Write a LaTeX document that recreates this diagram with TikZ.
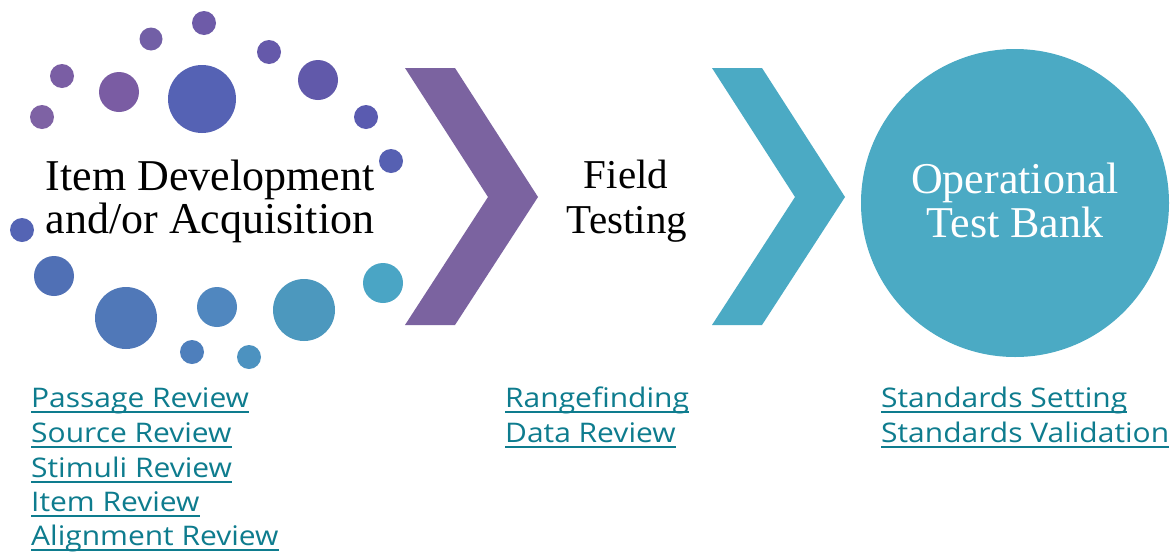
\documentclass[tikz,border=0pt]{standalone}
\usepackage{fontspec}
\setmainfont{Liberation Serif}
\newfontfamily\linkfont{Open Sans}[FakeStretch=1.11]
\definecolor{chevpurple}{HTML}{7B63A0}
\definecolor{chevteal}{HTML}{4BAAC4}
\definecolor{linkcol}{HTML}{0E7C8E}
\begin{document}
\begin{tikzpicture}[x=1pt,y=-1pt,
  dot/.style={circle,inner sep=0pt,minimum size=#1},
  bigtext/.style={font=\fontsize{44}{48}\selectfont,anchor=base,inner sep=0pt},
  midtext/.style={font=\fontsize{41}{44}\selectfont,anchor=base,inner sep=0pt},
  linktext/.style={font=\linkfont\fontsize{27}{30}\selectfont,text=linkcol,anchor=base west,inner sep=0pt},
  uline/.style={draw=linkcol,line width=2.4pt}]
\useasboundingbox[fill=white] (0,0) rectangle (1170,552);
% dots
\node[dot=24pt,fill={rgb,255:red,110;green,91;blue,168}] (d1) at (204,23) {};
\node[dot=23pt,fill={rgb,255:red,114;green,95;blue,166}] (d2) at (151,39) {};
\node[dot=24pt,fill={rgb,255:red,101;green,89;blue,170}] (d3) at (269,52) {};
\node[dot=24pt,fill={rgb,255:red,122;green,94;blue,164}] (d4) at (62,76) {};
\node[dot=40pt,fill={rgb,255:red,122;green,92;blue,163}] (d5) at (119,92) {};
\node[dot=68pt,fill={rgb,255:red,85;green,98;blue,180}] (d6) at (202,99) {};
\node[dot=40pt,fill={rgb,255:red,97;green,89;blue,170}] (d7) at (318,80) {};
\node[dot=24pt,fill={rgb,255:red,126;green,98;blue,164}] (d8) at (42,117) {};
\node[dot=24pt,fill={rgb,255:red,90;green,91;blue,176}] (d9) at (366,117) {};
\node[dot=24pt,fill={rgb,255:red,86;green,96;blue,178}] (d10) at (391,161) {};
\node[dot=24pt,fill={rgb,255:red,84;green,100;blue,180}] (d11) at (22,230) {};
\node[dot=40pt,fill={rgb,255:red,80;green,112;blue,181}] (d12) at (54,276) {};
\node[dot=62pt,fill={rgb,255:red,80;green,120;blue,184}] (d13) at (126,318) {};
\node[dot=40pt,fill={rgb,255:red,80;green,135;blue,191}] (d14) at (217,307) {};
\node[dot=62pt,fill={rgb,255:red,76;green,152;blue,190}] (d15) at (304,310) {};
\node[dot=40pt,fill={rgb,255:red,74;green,165;blue,197}] (d16) at (383,283) {};
\node[dot=24pt,fill={rgb,255:red,78;green,127;blue,188}] (d17) at (192,352) {};
\node[dot=24pt,fill={rgb,255:red,76;green,146;blue,192}] (d18) at (249,357) {};
% chevrons
\fill[chevpurple] (405,68) -- (455,68) -- (538,197) -- (455,325) -- (405,325) -- (488,197) -- cycle;
\fill[chevteal] (712,68) -- (762,68) -- (845,197) -- (762,325) -- (712,325) -- (795,197) -- cycle;
% circle
\node[circle,fill=chevteal,minimum size=308pt,inner sep=0pt] (bank) at (1015,203) {};
% texts
\node[bigtext] (t1) at (210,190) {Item Development};
\node[bigtext] (t2) at (210,233) {and/or Acquisition};
\node[midtext] (f1) at (626,188) {Field};
\node[midtext] (f2) at (627,233) {Testing};
\node[bigtext,text=white] (o1) at (1015,193) {Operational};
\node[bigtext,text=white] (o2) at (1015,237) {Test Bank};
% links
\node[linktext] (l1) at (31,407) {Passage Review};
\node[linktext] (l2) at (31,442) {Source Review};
\node[linktext] (l3) at (31,477) {Stimuli Review};
\node[linktext] (l4) at (31,511) {Item Review};
\node[linktext] (l5) at (31,545) {Alignment Review};
\node[linktext] (r1) at (505,407) {Rangefinding};
\node[linktext] (r2) at (505,442) {Data Review};
\node[linktext] (s1) at (881,407) {Standards Setting};
\node[linktext] (s2) at (881,442) {Standards Validation};
\foreach \n in {l1,l2,l3,l4,l5,r1,r2,s1,s2}
  \draw[uline] ([yshift=-5pt]\n.base west) -- ([yshift=-5pt]\n.base east);
\end{tikzpicture}
\end{document}
